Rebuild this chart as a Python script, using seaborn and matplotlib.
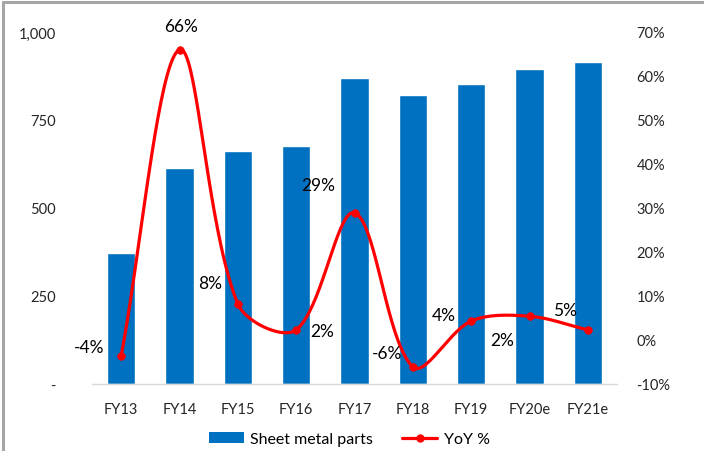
import numpy as np
import matplotlib
matplotlib.use("Agg")
import matplotlib.pyplot as plt
from matplotlib.lines import Line2D
from matplotlib.patches import Patch
import seaborn as sns
import pandas as pd

# ---- data ----
years = ["FY13", "FY14", "FY15", "FY16", "FY17", "FY18", "FY19", "FY20e", "FY21e"]
sheet_metal = [372, 614, 662, 676, 870, 821, 852, 896, 914]
yoy_pct = [-3.6, 66.0, 8.2, 2.3, 28.9, -6.1, 4.3, 5.4, 2.3]
yoy_labels = ["-4%", "66%", "8%", "2%", "29%", "-6%", "4%", "5%", "2%"]
left_ticks = [0, 250, 500, 750, 1000]
left_ticklabels = ["-", "250", "500", "750", "1,000"]
right_ticks = [-10, 0, 10, 20, 30, 40, 50, 60, 70]
right_ticklabels = ["-10%", "0%", "10%", "20%", "30%", "40%", "50%", "60%", "70%"]

# label offsets (pixels) from each YoY marker
label_offsets = [(-32, 9), (2, 24), (-28, 21), (26, -1), (-36, 28),
                 (-26, 14), (-27, 6), (36, 6), (-86, -10)]

BAR_BLUE = "#0070C0"
LINE_RED = "#FF0000"
FONT = "Lato"

sns.set_theme(style="white")
plt.rcParams["font.family"] = [FONT, "DejaVu Sans"]
plt.rcParams["text.color"] = "#000000"

# plot-area geometry in pixels
AX_L, AX_R, AX_T, AX_B = 92, 617, 33, 385
W, H = 704, 452


def smooth_curve(xs, ys, sx, sy, samples=40):
    """Bezier spline through the points; control arms scale with the
    neighbouring segment lengths, measured in screen proportions."""
    P = np.column_stack([np.asarray(xs, float) * sx, np.asarray(ys, float) * sy])
    n = len(P)
    seg = np.linalg.norm(np.diff(P, axis=0), axis=1)
    t = np.linspace(0, 1, samples)[:, None]
    pts = []
    for i in range(n - 1):
        p0, p3 = P[i], P[i + 1]
        if i > 0:
            chord = (P[i + 1] - P[i - 1]) / 6.0
            c1 = p0 + chord * 2 * seg[i] / (seg[i - 1] + seg[i])
        else:
            c1 = p0 + (p3 - p0) / 3.0
        if i + 2 < n:
            chord = (P[i + 2] - P[i]) / 6.0
            c2 = p3 - chord * 2 * seg[i] / (seg[i] + seg[i + 1])
        else:
            c2 = p3 - (p3 - p0) / 3.0
        b = (1 - t) ** 3 * p0 + 3 * (1 - t) ** 2 * t * c1 \
            + 3 * (1 - t) * t ** 2 * c2 + t ** 3 * p3
        pts.append(b)
    pts = np.vstack(pts)
    return pts[:, 0] / sx, pts[:, 1] / sy


df = pd.DataFrame({"year": years, "value": sheet_metal, "yoy": yoy_pct})

fig = plt.figure(figsize=(W / 100, H / 100), dpi=100)
ax = fig.add_axes([AX_L / W, 1 - AX_B / H, (AX_R - AX_L) / W, (AX_B - AX_T) / H])

sns.barplot(data=df, x="year", y="value", color=BAR_BLUE, width=0.49,
            saturation=1, ax=ax)
ax.set_xlim(-0.5, len(years) - 0.5)
ax.set_ylim(0, 1000)
ax.set_yticks(left_ticks)
ax.set_yticklabels(left_ticklabels)
ax.set_xlabel("")
ax.set_ylabel("")
for s in ["top", "left", "right"]:
    ax.spines[s].set_visible(False)
ax.spines["bottom"].set_color("#D9D9D9")
ax.spines["bottom"].set_linewidth(1.0)
ax.tick_params(axis="y", length=0, pad=26, labelsize=10.5)
ax.tick_params(axis="x", length=0, pad=13, labelsize=10.5)

ax2 = ax.twinx()
ax2.set_ylim(-10, 70)
ax2.set_yticks(right_ticks)
ax2.set_yticklabels(right_ticklabels)
ax2.tick_params(axis="y", length=0, pad=14, labelsize=10.5)
for s in ["top", "left", "right", "bottom"]:
    ax2.spines[s].set_visible(False)
ax2.grid(False)
ax.grid(False)

xpos = np.arange(len(years))
px_per_x = (AX_R - AX_L) / len(years)
px_per_pct = (AX_B - AX_T) / 80.0
cx, cy = smooth_curve(xpos, yoy_pct, px_per_x, px_per_pct)
ax2.plot(cx, cy, color=LINE_RED, lw=2.3, solid_capstyle="round", zorder=3)
sns.scatterplot(x=xpos, y=yoy_pct, color=LINE_RED, s=30, edgecolor=LINE_RED,
                linewidth=0.5, ax=ax2, zorder=4, legend=False)

for x, y, lab, (dx, dy) in zip(xpos, yoy_pct, yoy_labels, label_offsets):
    ax2.annotate(lab, (x, y), xytext=(dx, dy), textcoords="offset pixels",
                 ha="center", va="center", fontsize=12.5, color="#000000")

handles = [Patch(facecolor=BAR_BLUE, edgecolor="none"),
           Line2D([0], [0], color=LINE_RED, lw=2.3, marker="o", markersize=5)]
fig.legend(handles, ["Sheet metal parts", "YoY %"], loc="center",
           bbox_to_anchor=(0.496, 1 - 440 / H), ncol=2, frameon=False,
           fontsize=11.5, handlelength=2.2, handleheight=0.7,
           columnspacing=1.8, handletextpad=0.4)

# outer frame (top and left edges)
fig.add_artist(Line2D([3 / W, 1.0], [1 - 3 / H, 1 - 3 / H],
                      transform=fig.transFigure, color="#A6A6A6", lw=2.2))
fig.add_artist(Line2D([3 / W, 3 / W], [0, 1 - 3 / H],
                      transform=fig.transFigure, color="#A6A6A6", lw=2.2))

fig.savefig("out.png", dpi=100)
